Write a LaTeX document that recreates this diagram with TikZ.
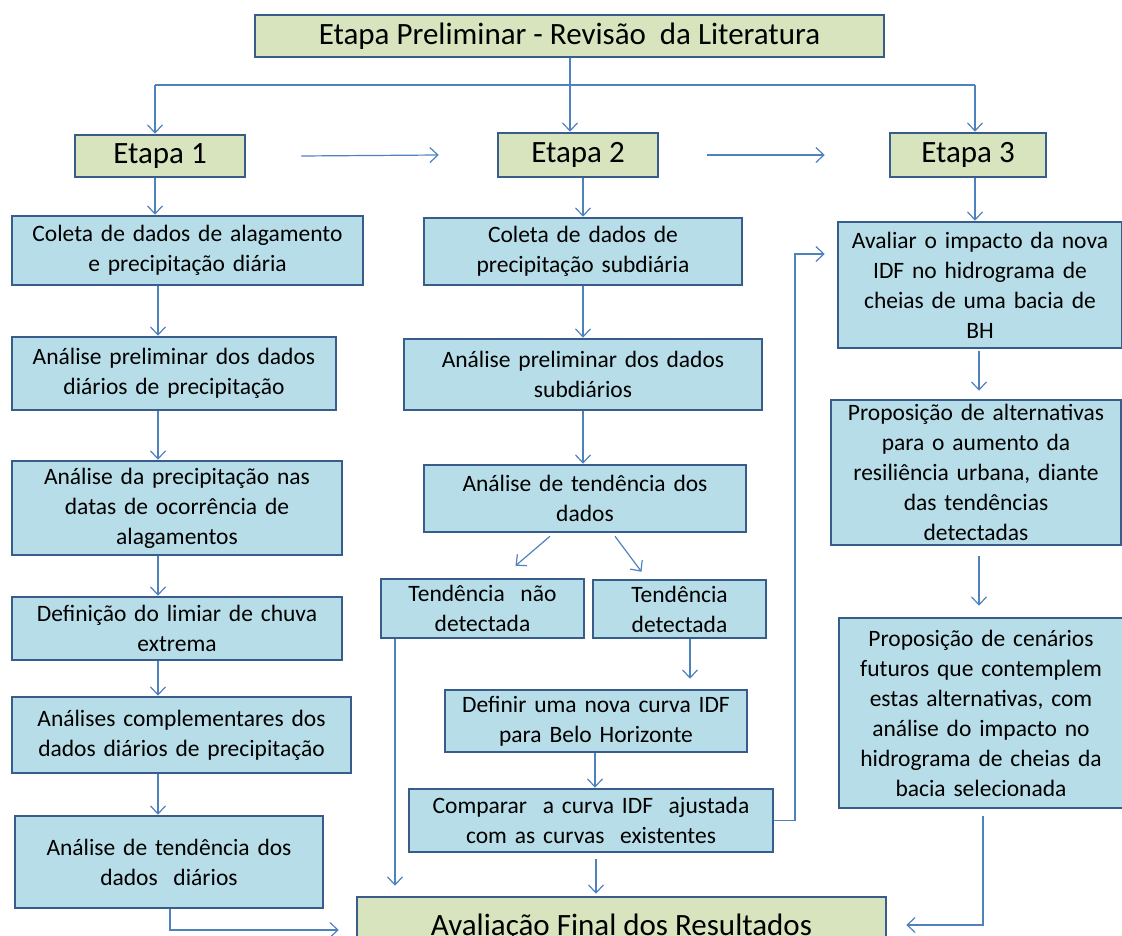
\documentclass[tikz,border=0pt]{standalone}
\usepackage{fontspec}
\setmainfont{Carlito}
\usetikzlibrary{arrows.meta}

\definecolor{boxline}{HTML}{385D8A}
\definecolor{stepfill}{HTML}{D7E4BD}
\definecolor{taskfill}{HTML}{B7DEE8}
\definecolor{arrowblue}{HTML}{4F81BD}

\tikzset{
  stepbox/.style={draw=boxline, fill=stepfill, line width=2.5pt, inner sep=0pt, align=center},
  taskbox/.style={draw=boxline, fill=taskfill, line width=2.5pt, inner sep=0pt, align=center,
    font=\fontsize{23.5}{30}\selectfont},
  flow/.style={draw=arrowblue, line width=1.2pt, -{Straight Barb[length=8pt,width=15pt]}},
  plain/.style={draw=arrowblue, line width=1.2pt}
}

\begin{document}
\begin{tikzpicture}[x=1pt,y=-1pt]  % pixel-like coordinates, y going down
    \useasboundingbox (0,0) rectangle (1122,936);

    % Top box and the three stages
    \node[stepbox, minimum width=629pt, minimum height=42pt, font=\fontsize{31}{30}\selectfont] (prelim) at (569.5,36) {Etapa Preliminar - Revisão\ \ da Literatura};
    \node[stepbox, minimum width=170pt, minimum height=42pt, font=\fontsize{31}{30}\selectfont] (etapa1) at (160,156) {Etapa 1};
    \node[stepbox, minimum width=160pt, minimum height=44pt, font=\fontsize{31}{30}\selectfont] (etapa2) at (578,155) {Etapa 2};
    \node[stepbox, minimum width=156pt, minimum height=44pt, font=\fontsize{31}{30}\selectfont] (etapa3) at (968,155) {Etapa 3};

    % Stage 1 column
    \node[taskbox, text width=351pt, minimum height=69pt] (coleta1) at (187.5,250.5) {Coleta de dados de alagamento\\ e precipitação diária};
    \node[taskbox, text width=324pt, minimum height=73pt] (prelim1) at (174,373.5) {Análise preliminar dos dados\\ diários de precipitação};
    \node[taskbox, text width=330pt, minimum height=94pt] (datas1) at (177,508) {Análise da precipitação nas\\ datas de ocorrência de\\ alagamentos};
    \node[taskbox, text width=330pt, minimum height=63pt] (limiar1) at (177,628.5) {Definição do limiar de chuva\\ extrema};
    \node[taskbox, text width=339pt, minimum height=76pt] (compl1) at (181.5,735) {Análises complementares dos\\ dados diários de precipitação};
    \node[taskbox, text width=308pt, minimum height=92pt] (tend1) at (169,862) {Análise de tendência dos\\ dados\ \ diários};

    % Stage 2 column
    \node[taskbox, text width=318pt, minimum height=67pt] (coleta2) at (583,251.5) {Coleta de dados de\\ precipitação subdiária};
    \node[taskbox, text width=358pt, minimum height=71pt] (prelim2) at (583,374.5) {Análise preliminar dos dados\\ subdiários};
    \node[taskbox, text width=322pt, minimum height=67pt] (tend2) at (585,498.5) {Análise de tendência dos\\ dados};
    \node[taskbox, text width=203pt, minimum height=59pt] (naodet) at (482.5,608.5) {Tendência\ \ não\\ detectada};
    \node[taskbox, text width=173pt, minimum height=58pt] (det) at (679.5,609) {Tendência\\ detectada};
    \node[taskbox, text width=302pt, minimum height=62pt] (novaidf) at (596,721) {Definir uma nova curva IDF\\ para\ Belo Horizonte};
    \node[taskbox, text width=364pt, minimum height=63pt] (comparar) at (591,820.5) {Comparar\ \ a curva IDF\ \ ajustada\\ com as curvas\ \ existentes};

    % Stage 3 column
    \node[taskbox, text width=284pt, minimum height=126pt] (impacto3) at (980,285) {Avaliar o impacto da nova\\ IDF no hidrograma de\\ cheias de uma bacia de\\ BH};
    \node[taskbox, text width=290pt, minimum height=145pt] (altern3) at (976,472.5) {Proposição de alternativas\\ para o aumento da\\ resiliência urbana, diante\\ das tendências\\ detectadas};
    \node[taskbox, text width=284pt, minimum height=190pt] (cenario3) at (981,713) {Proposição de cenários\\ futuros que contemplem\\ estas alternativas, com\\ análise do impacto no\\ hidrograma de cheias da\\ bacia selecionada};

    % Final box
    \node[stepbox, minimum width=529pt, minimum height=56pt, font=\fontsize{31}{30}\selectfont, text depth=0pt] (final) at (621.5,925) {Avaliação Final dos Resultados};

    % Column lines
    \coordinate (col1) at (158,0);
    \coordinate (col2) at (583,0);
    \coordinate (col3) at (979,0);
    \coordinate (split) at (570,85);

    % Connectors from the top box
    \draw[plain] (prelim.south -| split) -- (split);
    \draw[plain] (155,85) -- (975,85);
    \draw[flow] (155,85) -- (155,0 |- etapa1.north);
    \draw[flow] (split) -- (split |- etapa2.north);
    \draw[flow] (975,85) -- (975,0 |- etapa3.north);

    % Arrows between stages
    \draw[flow] ([xshift=55pt]etapa1.east) -- ([xshift=-58pt]etapa2.west);
    \draw[flow] ([xshift=48pt]etapa2.east) -- ([xshift=-64pt]etapa3.west);

    % Stage 1 chain
    \draw[flow] (155,0 |- etapa1.south) -- (155,0 |- coleta1.north);
    \draw[flow] (col1 |- coleta1.south) -- (col1 |- prelim1.north);
    \draw[flow] (col1 |- prelim1.south) -- (col1 |- datas1.north);
    \draw[flow] (col1 |- datas1.south) -- (col1 |- limiar1.north);
    \draw[flow] (col1 |- limiar1.south) -- (col1 |- compl1.north);
    \draw[flow] (col1 |- compl1.south) -- (col1 |- tend1.north);
    \draw[flow] (170,0 |- tend1.south) |- ([xshift=-17pt,yshift=-5pt]final.west);

    % Stage 2 chain
    \draw[flow] (col2 |- etapa2.south) -- (col2 |- coleta2.north);
    \draw[flow] (col2 |- coleta2.south) -- (col2 |- prelim2.north);
    \draw[flow] (col2 |- prelim2.south) -- (col2 |- tend2.north);
    \draw[flow] ([xshift=-35pt,yshift=-3pt]tend2.south) -- ([xshift=33pt,yshift=12pt]naodet.north);
    \draw[flow] ([xshift=30pt,yshift=-3pt]tend2.south) -- ([xshift=-38pt,yshift=7pt]det.north);
    \draw[flow] (690,0 |- det.south) -- ([yshift=10pt]690,0 |- novaidf.north);
    \draw[flow] (595,0 |- novaidf.south) -- (595,0 |- comparar.north);
    \draw[flow] ([yshift=-6pt]596,0 |- comparar.south) -- ([yshift=2pt]596,0 |- final.north);
    \draw[flow] (395,0 |- naodet.south) -- ([yshift=10pt]395,0 |- final.north);
    \draw[flow] (comparar.east) -| (795,254) -- ([xshift=-12pt]impacto3.west |- 0,254);

    % Stage 3 chain
    \draw[flow] (975,0 |- etapa3.south) -- (975,0 |- impacto3.north);
    \draw[flow] ([yshift=-2pt]col3 |- impacto3.south) -- ([yshift=8pt]col3 |- altern3.north);
    \draw[flow] ([yshift=-10pt]col3 |- altern3.south) -- ([yshift=11pt]col3 |- cenario3.north);
    \draw[flow] ([yshift=-7pt]983,0 |- cenario3.south) |- ([xshift=19pt]final.east);
\end{tikzpicture}
\end{document}
